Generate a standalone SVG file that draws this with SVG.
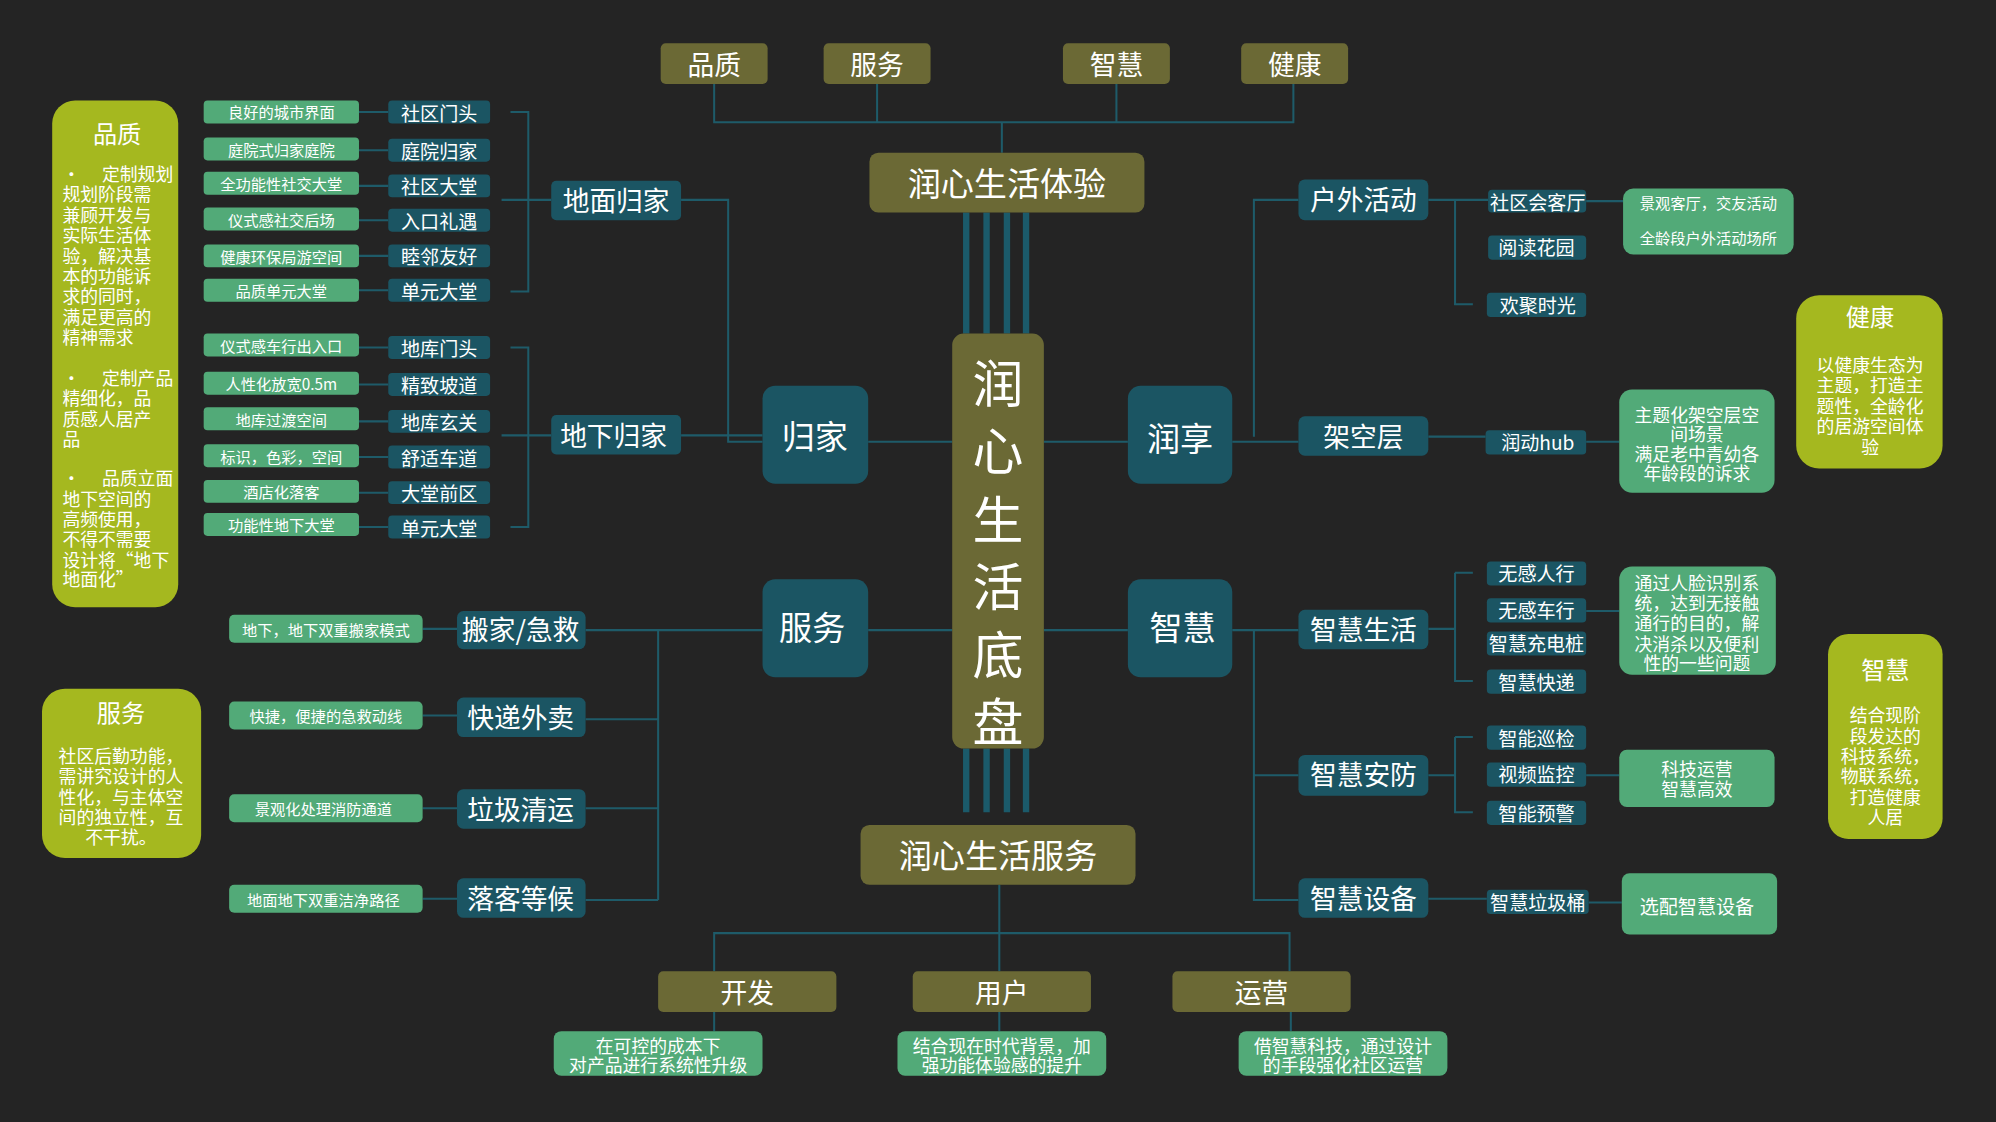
<svg xmlns="http://www.w3.org/2000/svg" width="1996" height="1122" viewBox="0 0 1996 1122">
<style>
text{font-family:"Noto Sans CJK SC","Noto Sans",sans-serif;fill:#fff;text-anchor:middle;dominant-baseline:central}
.ol{fill:#6b6935}.tl{fill:#1b5563}.gr{fill:#52aa78}.lm{fill:#a5b81f}
.ln{fill:none;stroke:#1e5b69;stroke-width:1.6}
.thick{stroke:#1b5a6a;stroke-width:5}
.s12{font-size:12px}.s14{font-size:14px}.s15{font-size:15px}.s19{font-size:19px}.s21{font-size:21px}.s24{font-size:24px}.s26{font-size:26px}
.lt{text-anchor:start}
</style>
<rect width="1996" height="1122" fill="#242424"/>
<g transform="scale(1.273)">
<g id="connectors">
<path class="ln" d="M561 66V96H1016V66M689 66V96M877 66V96M787 96V120"/>
<path class="ln thick" d="M759 167V262M775 167V262M791 167V262M806 167V262M759 588V638M775 588V638M791 588V638M806 588V638"/>
<path class="ln" d="M785 695V733M561 763V733H1013V763M785 733V763M561 795V810M785 795V810M1014 795V810"/>
<path class="ln" d="M682 347H748M820 347H886M682 495H748M820 495H886"/>
<path class="ln" d="M599 347H572V157H535M535 342H599"/>
<path class="ln" d="M433 157H394M401 88H415V229H401M433 342H394M401 273H415V414H401"/>
<path class="ln" d="M282 88H305M282 118H305M282 146H305M282 173H305M282 201H305M282 228H305M282 273H305M282 302H305M282 331H305M282 359H305M282 387H305M282 414H305"/>
<path class="ln" d="M599 495H460M517 495V707M460 565H517M460 635H517M460 707H517M332 494H359M332 562H359M332 635H359M332 706H359"/>
<path class="ln" d="M968 347H1020M985 343V157H1020M1122 157H1169M1143 157V239H1157M1246 158H1275M1122 343H1167M1246 347H1272"/>
<path class="ln" d="M968 495H1020M985 495V707H1020M985 609H1020M1122 494H1143M1143 450H1157M1143 450V535H1157M1246 480H1272M1122 609H1143M1143 579H1157M1143 579V638H1157M1246 609H1272M1122 706H1168M1248 709H1274"/>
</g>
<g id="top-pinzhi"><rect class="ol" x="519" y="34" width="84" height="32" rx="4"/><text class="s21" x="561" y="50">品质</text></g>
<g id="top-fuwu"><rect class="ol" x="647" y="34" width="84" height="32" rx="4"/><text class="s21" x="689" y="50">服务</text></g>
<g id="top-zhihui"><rect class="ol" x="835" y="34" width="84" height="32" rx="4"/><text class="s21" x="877" y="50">智慧</text></g>
<g id="top-jiankang"><rect class="ol" x="975" y="34" width="84" height="32" rx="4"/><text class="s21" x="1017" y="50">健康</text></g>
<g id="tiyan"><rect class="ol" x="683" y="120" width="216" height="47" rx="7"/><text class="s26" x="791" y="143">润心生活体验</text></g>
<g id="dipan"><rect class="ol" x="748" y="262" width="72" height="326" rx="9"/>
<text x="784" y="299" font-size="40">润</text><text x="784" y="352" font-size="40">心</text><text x="784" y="406" font-size="40">生</text><text x="784" y="459" font-size="40">活</text><text x="784" y="512" font-size="40">底</text><text x="784" y="565" font-size="40">盘</text></g>
<g id="fuwu-center"><rect class="ol" x="676" y="648" width="216" height="47" rx="7"/><text class="s26" x="784" y="671">润心生活服务</text></g>
<g id="kaifa"><rect class="ol" x="517" y="763" width="140" height="32" rx="4"/><text class="s21" x="587" y="779">开发</text></g>
<g id="yonghu"><rect class="ol" x="717" y="763" width="140" height="32" rx="4"/><text class="s21" x="787" y="779">用户</text></g>
<g id="yunying"><rect class="ol" x="921" y="763" width="140" height="32" rx="4"/><text class="s21" x="991" y="779">运营</text></g>
<g id="kaifa-d"><rect class="gr" x="435" y="810" width="164" height="35" rx="6"/><text class="s14" x="517" y="821">在可控的成本下</text><text class="s14" x="517" y="836">对产品进行系统性升级</text></g>
<g id="yonghu-d"><rect class="gr" x="705" y="810" width="164" height="35" rx="6"/><text class="s14" x="787" y="821">结合现在时代背景，加</text><text class="s14" x="787" y="836">强功能体验感的提升</text></g>
<g id="yunying-d"><rect class="gr" x="973" y="810" width="164" height="35" rx="6"/><text class="s14" x="1055" y="821">借智慧科技，通过设计</text><text class="s14" x="1055" y="836">的手段强化社区运营</text></g>
<g id="guijia"><rect class="tl" x="599" y="303" width="83" height="77" rx="10"/><text class="s26" x="640" y="342">归家</text></g>
<g id="fuwu"><rect class="tl" x="599" y="455" width="83" height="77" rx="10"/><text class="s26" x="638" y="492">服务</text></g>
<g id="runxiang"><rect class="tl" x="886" y="303" width="82" height="77" rx="10"/><text class="s26" x="927" y="343">润享</text></g>
<g id="zhihui"><rect class="tl" x="886" y="455" width="82" height="77" rx="10"/><text class="s26" x="929" y="492">智慧</text></g>
<g id="dimian"><rect class="tl" x="433" y="142" width="102" height="31" rx="4"/><text class="s21" x="484" y="157">地面归家</text></g>
<g id="dixia"><rect class="tl" x="433" y="326" width="102" height="31" rx="4"/><text class="s21" x="482" y="341">地下归家</text></g>
<g id="left-items">
<rect class="tl" x="305" y="79" width="80" height="18" rx="3"/><text class="s15" x="345" y="88">社区门头</text>
<rect class="tl" x="305" y="109" width="80" height="18" rx="3"/><text class="s15" x="345" y="118">庭院归家</text>
<rect class="tl" x="305" y="137" width="80" height="18" rx="3"/><text class="s15" x="345" y="146">社区大堂</text>
<rect class="tl" x="305" y="164" width="80" height="18" rx="3"/><text class="s15" x="345" y="173">入口礼遇</text>
<rect class="tl" x="305" y="192" width="80" height="18" rx="3"/><text class="s15" x="345" y="201">睦邻友好</text>
<rect class="tl" x="305" y="219" width="80" height="18" rx="3"/><text class="s15" x="345" y="228">单元大堂</text>
<rect class="tl" x="305" y="264" width="80" height="18" rx="3"/><text class="s15" x="345" y="273">地库门头</text>
<rect class="tl" x="305" y="293" width="80" height="18" rx="3"/><text class="s15" x="345" y="302">精致坡道</text>
<rect class="tl" x="305" y="322" width="80" height="18" rx="3"/><text class="s15" x="345" y="331">地库玄关</text>
<rect class="tl" x="305" y="350" width="80" height="18" rx="3"/><text class="s15" x="345" y="359">舒适车道</text>
<rect class="tl" x="305" y="378" width="80" height="18" rx="3"/><text class="s15" x="345" y="387">大堂前区</text>
<rect class="tl" x="305" y="405" width="80" height="18" rx="3"/><text class="s15" x="345" y="414">单元大堂</text>
</g>
<g id="left-details">
<rect class="gr" x="160" y="79" width="122" height="18" rx="3"/><text class="s12" x="221" y="87">良好的城市界面</text>
<rect class="gr" x="160" y="108" width="122" height="18" rx="3"/><text class="s12" x="221" y="117">庭院式归家庭院</text>
<rect class="gr" x="160" y="135" width="122" height="18" rx="3"/><text class="s12" x="221" y="144">全功能性社交大堂</text>
<rect class="gr" x="160" y="163" width="122" height="18" rx="3"/><text class="s12" x="221" y="172">仪式感社交后场</text>
<rect class="gr" x="160" y="192" width="122" height="18" rx="3"/><text class="s12" x="221" y="201">健康环保局游空间</text>
<rect class="gr" x="160" y="219" width="122" height="18" rx="3"/><text class="s12" x="221" y="228">品质单元大堂</text>
<rect class="gr" x="160" y="262" width="122" height="18" rx="3"/><text class="s12" x="221" y="271">仪式感车行出入口</text>
<rect class="gr" x="160" y="292" width="122" height="18" rx="3"/><text class="s12" x="221" y="301">人性化放宽0.5m</text>
<rect class="gr" x="160" y="320" width="122" height="18" rx="3"/><text class="s12" x="221" y="329">地库过渡空间</text>
<rect class="gr" x="160" y="349" width="122" height="18" rx="3"/><text class="s12" x="221" y="358">标识，色彩，空间</text>
<rect class="gr" x="160" y="377" width="122" height="18" rx="3"/><text class="s12" x="221" y="386">酒店化落客</text>
<rect class="gr" x="160" y="403" width="122" height="18" rx="3"/><text class="s12" x="221" y="412">功能性地下大堂</text>
</g>
<g id="panel-pinzhi"><rect class="lm" x="41" y="79" width="99" height="398" rx="18"/>
<text class="s19" x="92" y="104">品质</text>
<g class="s14"><text class="lt" x="49" y="136">•　  定制规划</text><text class="lt" x="49" y="152">规划阶段需</text><text class="lt" x="49" y="168">兼顾开发与</text><text class="lt" x="49" y="184">实际生活体</text><text class="lt" x="49" y="200">验，解决基</text><text class="lt" x="49" y="216">本的功能诉</text><text class="lt" x="49" y="232">求的同时，</text><text class="lt" x="49" y="248">满足更高的</text><text class="lt" x="49" y="264">精神需求</text>
<text class="lt" x="49" y="296">•　  定制产品</text><text class="lt" x="49" y="312">精细化，品</text><text class="lt" x="49" y="328">质感人居产</text><text class="lt" x="49" y="344">品</text>
<text class="lt" x="49" y="375">•　  品质立面</text><text class="lt" x="49" y="391">地下空间的</text><text class="lt" x="49" y="407">高频使用，</text><text class="lt" x="49" y="423">不得不需要</text><text class="lt" x="49" y="439">设计将“地下</text><text class="lt" x="49" y="454">地面化”</text></g></g>
<g id="panel-fuwu"><rect class="lm" x="33" y="541" width="125" height="133" rx="18"/>
<text class="s19" x="95" y="559">服务</text>
<g class="s14"><text x="95" y="593">社区后勤功能，</text><text x="95" y="609">需讲究设计的人</text><text x="95" y="625">性化，与主体空</text><text x="95" y="641">间的独立性，互</text><text x="95" y="657">不干扰。</text></g></g>
<g id="svc-banjia"><rect class="tl" x="359" y="480" width="101" height="30" rx="5"/><text class="s21" x="409" y="494">搬家/急救</text></g>
<g id="svc-kuaidi"><rect class="tl" x="359" y="548" width="101" height="31" rx="5"/><text class="s21" x="409" y="563">快递外卖</text></g>
<g id="svc-laji"><rect class="tl" x="359" y="620" width="101" height="31" rx="5"/><text class="s21" x="409" y="635">垃圾清运</text></g>
<g id="svc-luoke"><rect class="tl" x="359" y="690" width="101" height="31" rx="5"/><text class="s21" x="409" y="705">落客等候</text></g>
<g id="svc-details">
<rect class="gr" x="180" y="483" width="152" height="22" rx="4"/><text class="s12" x="256" y="494">地下，地下双重搬家模式</text>
<rect class="gr" x="180" y="551" width="152" height="22" rx="4"/><text class="s12" x="256" y="562">快捷，便捷的急救动线</text>
<rect class="gr" x="180" y="624" width="152" height="22" rx="4"/><text class="s12" x="254" y="635">景观化处理消防通道</text>
<rect class="gr" x="180" y="695" width="152" height="22" rx="4"/><text class="s12" x="254" y="706">地面地下双重洁净路径</text>
</g>
<g id="huwai"><rect class="tl" x="1020" y="141" width="102" height="32" rx="5"/><text class="s21" x="1071" y="156">户外活动</text></g>
<g id="jiakong"><rect class="tl" x="1020" y="327" width="102" height="31" rx="5"/><text class="s21" x="1071" y="342">架空层</text></g>
<g id="zhsh"><rect class="tl" x="1020" y="479" width="102" height="31" rx="5"/><text class="s21" x="1071" y="494">智慧生活</text></g>
<g id="zhaf"><rect class="tl" x="1020" y="593" width="102" height="32" rx="5"/><text class="s21" x="1071" y="608">智慧安防</text></g>
<g id="zhsb"><rect class="tl" x="1020" y="690" width="102" height="31" rx="5"/><text class="s21" x="1071" y="705">智慧设备</text></g>
<g id="right-items">
<rect class="tl" x="1169" y="149" width="77" height="18" rx="3"/><text class="s15" x="1208" y="158">社区会客厅</text>
<rect class="tl" x="1169" y="185" width="77" height="19" rx="3"/><text class="s15" x="1207" y="194">阅读花园</text>
<rect class="tl" x="1168" y="230" width="78" height="19" rx="3"/><text class="s15" x="1208" y="239">欢聚时光</text>
<rect class="tl" x="1167" y="338" width="79" height="19" rx="3"/><text class="s15" x="1208" y="347">润动hub</text>
<rect class="tl" x="1168" y="441" width="78" height="19" rx="3"/><text class="s15" x="1207" y="450">无感人行</text>
<rect class="tl" x="1168" y="470" width="78" height="19" rx="3"/><text class="s15" x="1207" y="479">无感车行</text>
<rect class="tl" x="1168" y="496" width="78" height="19" rx="3"/><text class="s15" x="1207" y="505">智慧充电桩</text>
<rect class="tl" x="1168" y="526" width="78" height="19" rx="3"/><text class="s15" x="1207" y="535">智慧快递</text>
<rect class="tl" x="1168" y="570" width="78" height="19" rx="3"/><text class="s15" x="1207" y="579">智能巡检</text>
<rect class="tl" x="1168" y="599" width="78" height="19" rx="3"/><text class="s15" x="1207" y="608">视频监控</text>
<rect class="tl" x="1168" y="629" width="78" height="19" rx="3"/><text class="s15" x="1207" y="638">智能预警</text>
<rect class="tl" x="1168" y="699" width="80" height="19" rx="3"/><text class="s15" x="1208" y="708">智慧垃圾桶</text>
</g>
<g id="right-details">
<rect class="gr" x="1275" y="148" width="134" height="52" rx="8"/><text class="s12" x="1342" y="159">景观客厅，交友活动</text><text class="s12" x="1342" y="186">全龄段户外活动场所</text>
<rect class="gr" x="1272" y="306" width="122" height="81" rx="10"/><g class="s14"><text x="1333" y="325">主题化架空层空</text><text x="1333" y="340">间场景</text><text x="1333" y="356">满足老中青幼各</text><text x="1333" y="371">年龄段的诉求</text></g>
<rect class="gr" x="1272" y="445" width="123" height="85" rx="10"/><g class="s14"><text x="1333" y="457">通过人脸识别系</text><text x="1333" y="473">统，达到无接触</text><text x="1333" y="489">通行的目的，解</text><text x="1333" y="505">决消杀以及便利</text><text x="1333" y="520">性的一些问题</text></g>
<rect class="gr" x="1272" y="589" width="122" height="45" rx="6"/><g class="s14"><text x="1333" y="603">科技运营</text><text x="1333" y="619">智慧高效</text></g>
<rect class="gr" x="1274" y="686" width="122" height="48" rx="6"/><text class="s15" x="1333" y="711">选配智慧设备</text>
</g>
<g id="panel-jiankang"><rect class="lm" x="1411" y="232" width="115" height="136" rx="18"/>
<text class="s19" x="1469" y="248">健康</text>
<g class="s14"><text x="1469" y="286">以健康生态为</text><text x="1469" y="302">主题，打造主</text><text x="1469" y="318">题性，全龄化</text><text x="1469" y="334">的居游空间体</text><text x="1469" y="350">验</text></g></g>
<g id="panel-zhihui"><rect class="lm" x="1436" y="498" width="90" height="161" rx="16"/>
<text class="s19" x="1481" y="525">智慧</text>
<g class="s14"><text x="1481" y="561">结合现阶</text><text x="1481" y="577">段发达的</text><text x="1481" y="593">科技系统，</text><text x="1481" y="609">物联系统，</text><text x="1481" y="625">打造健康</text><text x="1481" y="641">人居</text></g></g>
</g>
</svg>
